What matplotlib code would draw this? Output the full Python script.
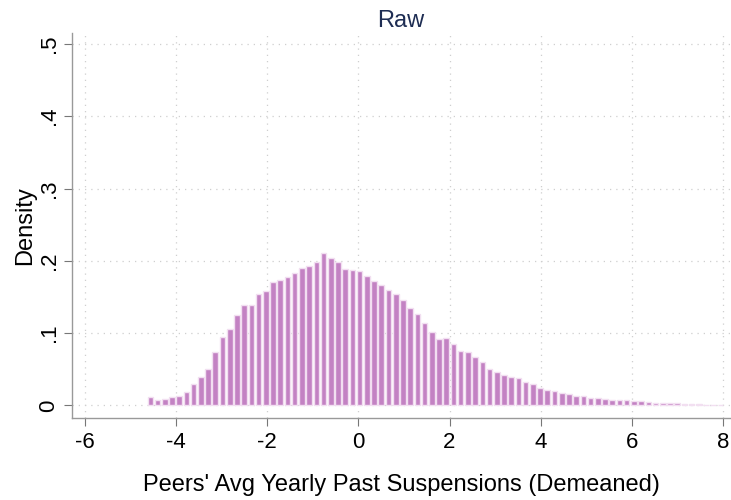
import matplotlib
matplotlib.use("Agg")
import matplotlib.pyplot as plt
import numpy as np

plt.rcParams['font.family'] = ['Liberation Sans', 'DejaVu Sans']
plt.rcParams['axes.unicode_minus'] = False

# histogram: first bin edge, bin width, densities
bin_start = -4.641
bin_width = 0.1583
density = [
    0.012, 0.0076, 0.009, 0.012, 0.0136, 0.018, 0.030, 0.039, 0.051, 0.074,
    0.094, 0.106, 0.125, 0.139, 0.1386, 0.154, 0.158, 0.171, 0.173, 0.177,
    0.183, 0.190, 0.193, 0.199, 0.211, 0.204, 0.198, 0.189, 0.188, 0.186,
    0.179, 0.172, 0.167, 0.159, 0.154, 0.1455, 0.135, 0.126, 0.1145, 0.102,
    0.092, 0.093, 0.085, 0.076, 0.0736, 0.0667, 0.060, 0.050, 0.046, 0.0418,
    0.039, 0.0376, 0.033, 0.0297, 0.0246, 0.0219, 0.020, 0.0177, 0.0159, 0.0127,
    0.0127, 0.0104, 0.0104, 0.009, 0.008, 0.0072, 0.0069, 0.0068, 0.0062, 0.0053,
    0.0040, 0.0038, 0.0033, 0.0035, 0.0022, 0.0018, 0.0015, 0.0012, 0.0010, 0.0008,
]
x_ticks = [-6, -4, -2, 0, 2, 4, 6, 8]
y_ticks = [0, 0.1, 0.2, 0.3, 0.4, 0.5]
y_labels = ["0", ".1", ".2", ".3", ".4", ".5"]

centers = bin_start + bin_width * (np.arange(len(density)) + 0.5)

fig = plt.figure(figsize=(7.31, 5.0), dpi=100)
ax = fig.add_axes([0.0985, 0.164, 0.9, 0.77])

ax.bar(centers, density, width=bin_width * 0.78, color='#c382c3',
       edgecolor='#f2dff1', linewidth=1.0, zorder=3)

ax.set_xlim(-6.28, 8.15)
ax.set_ylim(-0.0173, 0.515)

ax.set_xticks(x_ticks)
ax.set_yticks(y_ticks)
ax.set_yticklabels(y_labels, rotation=90, va='center')
ax.tick_params(axis='both', labelsize=16, length=6, color='#777777', direction='out')
ax.tick_params(axis='y', pad=3)
ax.tick_params(axis='x', pad=4)

ax.grid(True, linestyle=(0, (1, 4)), color='#cfcfcf', linewidth=0.9, zorder=0)

for side in ['top', 'right']:
    ax.spines[side].set_visible(False)
for side in ['left', 'bottom']:
    ax.spines[side].set_color('#999999')
    ax.spines[side].set_linewidth(1.0)

ax.set_title("Raw", fontsize=17, color='#1e2d53', pad=4)
ax.set_xlabel("Peers' Avg Yearly Past Suspensions (Demeaned)", fontsize=17, labelpad=15)
ax.set_ylabel("Density", fontsize=17, labelpad=2)

fig.savefig("out.png", dpi=100)
